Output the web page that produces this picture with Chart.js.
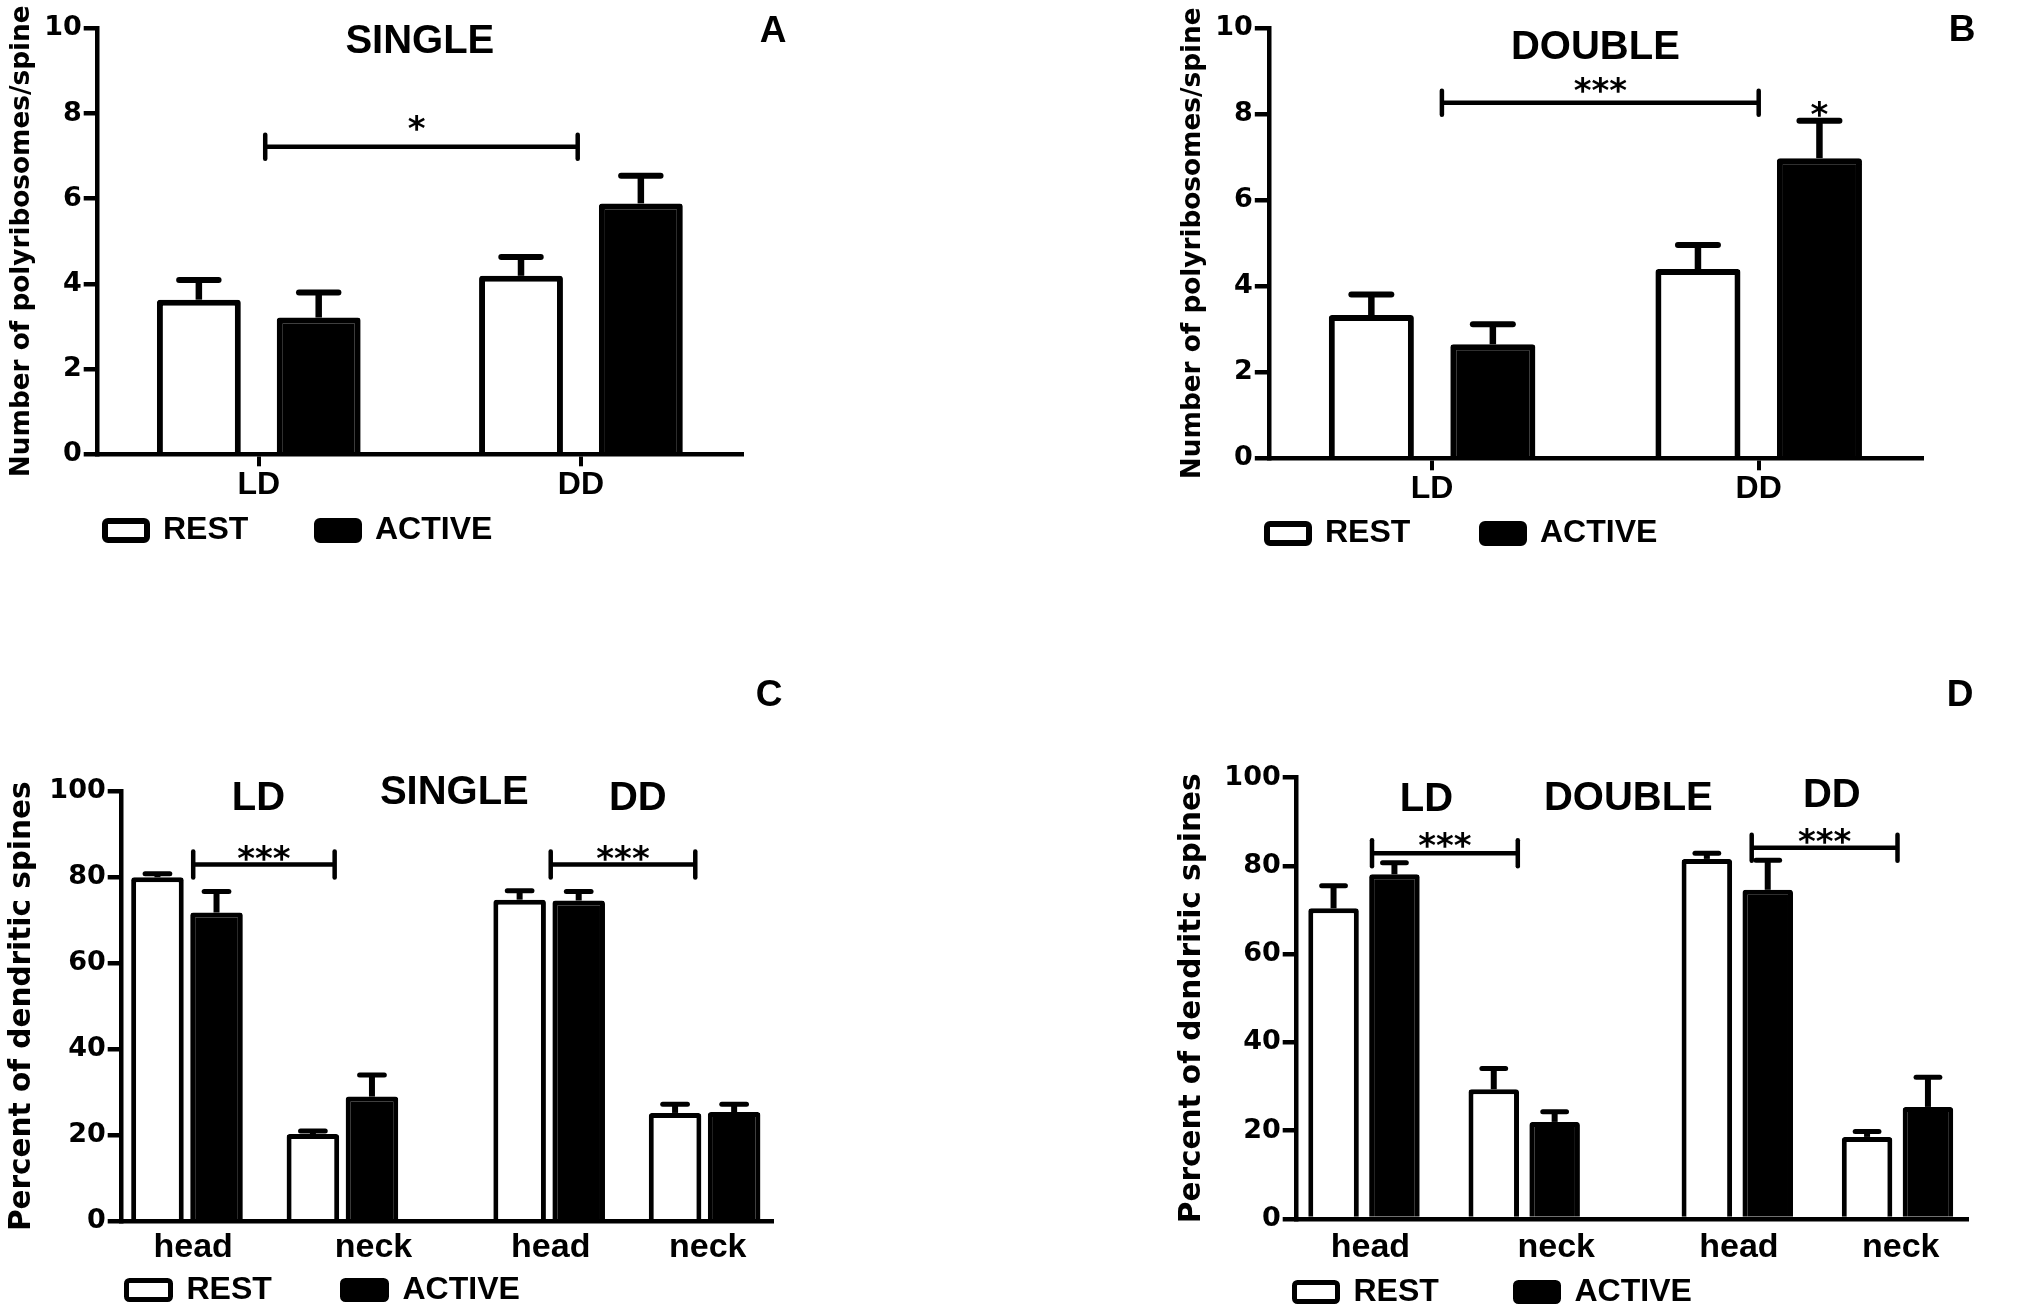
<!DOCTYPE html>
<html>
<head>
<meta charset="utf-8">
<title>Polyribosomes in dendritic spines</title>
<script src="https://cdn.jsdelivr.net/npm/chart.js@4.4.1/dist/chart.umd.min.js"></script>
<style>
  html, body { margin: 0; padding: 0; background: #fff; }
  body { width: 2034px; height: 1312px; position: relative; overflow: hidden; }
  canvas { position: absolute; }
</style>
</head>
<body>
<canvas id="panelA" width="1100" height="640" style="left:0px;top:0px"></canvas>
<canvas id="panelB" width="934" height="640" style="left:1100px;top:0px"></canvas>
<canvas id="panelC" width="1100" height="800" style="left:0px;top:640px"></canvas>
<canvas id="panelD" width="934" height="800" style="left:1100px;top:640px"></canvas>
<script>
// ---- values (mean and SEM) ----
const seriesNames = ['REST', 'ACTIVE'];
const lightCycles = ['LD', 'DD'];

// A: single spines, polyribosomes per spine
const singleRest = [3.63, 4.19];
const singleRestSem = [0.46, 0.44];
const singleActive = [3.21, 5.89];
const singleActiveSem = [0.59, 0.65];

// B: double spines
const doubleRest = [3.33, 4.40];
const doubleRestSem = [0.48, 0.56];
const doubleActive = [2.65, 6.98];
const doubleActiveSem = [0.47, 0.87];

// C, D: percent of spines, head / neck for LD then DD
const spineParts = ['head', 'neck', 'head', 'neck'];
const spinePartPos = [0, 1, 2.33, 3.33];       // the four bar pairs on the x scale
const spineLabelPos = [0.04, 1.2, 2.34, 3.35]; // where the head/neck words sit
const singlePctRest = [80.0, 20.3, 74.8, 25.2];
const singlePctRestSem = [0.8, 0.7, 2.1, 2.0];
const singlePctActive = [71.8, 29.0, 74.6, 25.4];
const singlePctActiveSem = [4.9, 5.0, 2.1, 1.8];
const doublePctRest = [70.4, 29.4, 81.6, 18.6];
const doublePctRestSem = [5.1, 4.7, 1.3, 1.2];
const doublePctActive = [78.1, 22.0, 74.6, 25.4];
const doublePctActiveSem = [2.6, 2.3, 6.7, 6.7];

const SANS = '"Liberation Sans", Arial, sans-serif';   // words
const WIDE = '"DejaVu Sans", sans-serif';               // y digits, axis titles, stars
const BLACK = '#000000';
const LEGEND_SIZE = 32;

Chart.defaults.font.family = SANS;
Chart.defaults.font.weight = 'bold';
Chart.defaults.color = BLACK;

function centeredText(ctx, text, x, y, size, family) {
  ctx.font = 'bold ' + size + 'px ' + (family || SANS);
  ctx.textAlign = 'center';
  ctx.textBaseline = 'alphabetic';
  const m = ctx.measureText(text);
  ctx.fillText(text, x, y + (m.actualBoundingBoxAscent - m.actualBoundingBoxDescent) / 2);
}

// error bars, significance brackets and the free text of a panel
function marks(cfg, origin) {
  return {
    id: 'marks',
    afterDatasetsDraw(chart) {
      const ctx = chart.ctx;
      const x = chart.scales.x, y = chart.scales.y;
      ctx.save();
      ctx.strokeStyle = BLACK;
      ctx.fillStyle = BLACK;

      chart.data.datasets.forEach((ds, i) => {
        chart.getDatasetMeta(i).data.forEach((bar, j) => {
          const d = ds.data[j];
          const v = typeof d === 'object' ? d.y : d;
          const yErr = y.getPixelForValue(v + ds.sem[j]);
          ctx.lineCap = 'butt';
          ctx.lineWidth = cfg.errWidth;
          ctx.beginPath();
          ctx.moveTo(bar.x, bar.y);
          ctx.lineTo(bar.x, yErr);
          ctx.stroke();
          const half = bar.width * cfg.capRatio / 2;
          ctx.lineCap = 'round';
          ctx.lineWidth = cfg.capWidth;
          ctx.beginPath();
          ctx.moveTo(bar.x - half, yErr);
          ctx.lineTo(bar.x + half, yErr);
          ctx.stroke();
        });
      });

      cfg.brackets.forEach(b => {
        const x1 = x.getPixelForValue(b.from);
        const x2 = x.getPixelForValue(b.to);
        const yy = y.getPixelForValue(b.y);
        ctx.lineWidth = cfg.lineWidth;
        ctx.lineCap = 'butt';
        ctx.beginPath();
        ctx.moveTo(x1, yy);
        ctx.lineTo(x2, yy);
        ctx.stroke();
        ctx.lineCap = 'round';
        [x1, x2].forEach(xx => {
          ctx.beginPath();
          ctx.moveTo(xx, yy - cfg.tick);
          ctx.lineTo(xx, yy + cfg.tick);
          ctx.stroke();
        });
        const tx = b.textX !== undefined ? x.getPixelForValue(b.textX) : (x1 + x2) / 2;
        centeredText(ctx, b.text, tx, y.getPixelForValue(b.textY), cfg.starSize, WIDE);
      });

      cfg.barStars.forEach(s => {
        const bar = chart.getDatasetMeta(s.dataset).data[s.index];
        centeredText(ctx, s.text, bar.x, y.getPixelForValue(s.y), cfg.starSize, WIDE);
      });

      cfg.labels.forEach(l => {
        centeredText(ctx, l.text, x.getPixelForValue(l.x), y.getPixelForValue(l.y), l.size);
      });

      const c = cfg.corner;
      centeredText(ctx, c.text, c.x - origin[0], c.y - origin[1], 37);
      ctx.restore();
    }
  };
}

// puts the legend row where the figure has it
function legendSpot(left, top) {
  return {
    id: 'legendSpot',
    afterLayout(chart) {
      const lg = chart.legend;
      lg.left = left;
      lg.top = top;
      lg.right = chart.width;
      lg.bottom = chart.height;
    }
  };
}

function buildPanel(p) {
  const canvas = document.getElementById(p.id);
  const W = canvas.width, H = canvas.height;
  const left = p.area.left - p.origin[0];
  const right = p.area.right - p.origin[0];
  const top = p.area.top - p.origin[1];
  const bottom = p.area.bottom - p.origin[1];

  const lw = p.borderWidth;
  const boxW = p.legendBox[0] - lw, boxH = p.legendBox[1] - lw;
  const meas = document.createElement('canvas').getContext('2d');
  meas.font = 'bold ' + LEGEND_SIZE + 'px ' + SANS;
  const gap = p.legendStep - (boxW + LEGEND_SIZE / 2 + meas.measureText(seriesNames[0]).width);
  const cursorX = p.legendAt[0] - p.origin[0] + lw / 2;
  const cursorY = p.legendAt[1] - p.origin[1] + lw / 2 - Math.max((LEGEND_SIZE - boxH) / 2, 0);

  const titlePad = p.yTitleX - p.origin[0] - p.yTitleSize * 0.6;

  const toData = vals => p.spine ? vals.map((v, i) => ({ x: spinePartPos[i], y: v })) : vals;

  const tickFont = { size: p.xTickSize, weight: 'bold', family: SANS };
  const xScale = p.spine ? {
    type: 'linear', min: -0.42, max: 3.77, bounds: 'data', offset: false,
    grid: { display: false, drawTicks: false },
    border: { display: true, width: 4.5, color: BLACK, z: 1 },
    afterBuildTicks: s => { s.ticks = spineLabelPos.map(v => ({ value: v })); },
    ticks: { color: BLACK, font: tickFont, padding: p.xTickPad, maxRotation: 0, autoSkip: false,
             callback: (v, i) => spineParts[i] },
    afterFit: s => { s.height = H - 1 - bottom; }
  } : {
    type: 'category', offset: true,
    grid: { drawOnChartArea: false, drawTicks: true, tickLength: 12, lineWidth: 4, color: BLACK, offset: false },
    border: { display: true, width: 4.5, color: BLACK, z: 1 },
    ticks: { color: BLACK, font: tickFont, padding: p.xTickPad, maxRotation: 0, autoSkip: false },
    afterFit: s => { s.height = H - 1 - bottom; }
  };

  const barStyle = {
    borderColor: BLACK, borderWidth: lw, borderSkipped: 'start', borderRadius: 3,
    categoryPercentage: p.catPct, barPercentage: p.barPct
  };

  return new Chart(canvas, {
    type: 'bar',
    data: {
      labels: p.spine ? undefined : lightCycles,
      datasets: [
        Object.assign({ label: seriesNames[0], data: toData(p.rest), sem: p.restSem, backgroundColor: '#ffffff' }, barStyle),
        Object.assign({ label: seriesNames[1], data: toData(p.active), sem: p.activeSem, backgroundColor: BLACK }, barStyle)
      ]
    },
    options: {
      responsive: false,
      animation: false,
      events: [],
      layout: { padding: { left: 0, top: top, right: W - right, bottom: 0 } },
      plugins: {
        legend: {
          position: 'bottom', align: 'start', maxHeight: 1,
          labels: {
            boxWidth: boxW, boxHeight: boxH, padding: gap, color: BLACK,
            font: { size: LEGEND_SIZE, weight: 'bold', family: SANS },
            useBorderRadius: true, borderRadius: 3
          }
        },
        tooltip: { enabled: false }
      },
      scales: {
        x: xScale,
        y: {
          min: 0, max: p.yMax,
          ticks: { stepSize: p.yStep, color: BLACK, font: { size: 27, weight: 'bold', family: WIDE }, padding: 2 },
          grid: { drawOnChartArea: false, drawTicks: true, tickLength: 14, lineWidth: 4.5, color: BLACK },
          border: { display: true, width: 4.5, color: BLACK, z: 1 },
          title: { display: true, text: p.yTitle, color: BLACK,
                   font: { size: p.yTitleSize, weight: 'bold', family: WIDE },
                   padding: { top: titlePad, bottom: 0 } },
          afterFit: s => { s.width = left; }
        }
      }
    },
    plugins: [marks(p.marks, p.origin), legendSpot(cursorX - gap, cursorY - gap)]
  });
}

const polyTitle = 'Number of polyribosomes/spine';
const pctTitle = 'Percent of dendritic spines';

buildPanel({
  id: 'panelA', origin: [0, 0],
  area: { left: 97.7, right: 742, top: 28.3, bottom: 454.3 },
  rest: singleRest, restSem: singleRestSem, active: singleActive, activeSem: singleActiveSem,
  yMax: 10, yStep: 2, yTitle: polyTitle, yTitleSize: 26.3, yTitleX: 22.5,
  borderWidth: 6, catPct: 0.744, barPct: 0.70, xTickSize: 32, xTickPad: 0,
  legendAt: [102, 518], legendBox: [48, 25], legendStep: 212,
  marks: {
    errWidth: 6.5, capWidth: 6, capRatio: 0.47, lineWidth: 4.5, tick: 12, starSize: 34,
    brackets: [{ from: 0.02, to: 0.99, y: 7.22, text: '*', textX: 0.49, textY: 7.77 }],
    barStars: [],
    labels: [{ text: 'SINGLE', x: 0.5, y: 9.76, size: 40 }],
    corner: { text: 'A', x: 773, y: 29 }
  }
});

buildPanel({
  id: 'panelB', origin: [1100, 0],
  area: { left: 1268.8, right: 1922, top: 28.3, bottom: 458.3 },
  rest: doubleRest, restSem: doubleRestSem, active: doubleActive, activeSem: doubleActiveSem,
  yMax: 10, yStep: 2, yTitle: polyTitle, yTitleSize: 26.3, yTitleX: 1193,
  borderWidth: 6, catPct: 0.744, barPct: 0.70, xTickSize: 32, xTickPad: 0,
  legendAt: [1264, 521], legendBox: [48, 25], legendStep: 215,
  marks: {
    errWidth: 6.5, capWidth: 6, capRatio: 0.47, lineWidth: 4.5, tick: 12, starSize: 34,
    brackets: [{ from: 0.03, to: 1.0, y: 8.27, text: '***', textY: 8.69 }],
    barStars: [{ dataset: 1, index: 1, y: 8.12, text: '*' }],
    labels: [{ text: 'DOUBLE', x: 0.5, y: 9.62, size: 40 }],
    corner: { text: 'B', x: 1962, y: 28 }
  }
});

buildPanel({
  id: 'panelC', origin: [0, 640], spine: true,
  area: { left: 121.7, right: 773, top: 791.3, bottom: 1221.3 },
  rest: singlePctRest, restSem: singlePctRestSem, active: singlePctActive, activeSem: singlePctActiveSem,
  yMax: 100, yStep: 20, yTitle: pctTitle, yTitleSize: 29.5, yTitleX: 22,
  borderWidth: 5, catPct: 0.76, barPct: 0.89, xTickSize: 34, xTickPad: 6,
  legendAt: [124, 1278], legendBox: [49, 24], legendStep: 216,
  marks: {
    errWidth: 6, capWidth: 5, capRatio: 0.47, lineWidth: 4.5, tick: 13, starSize: 34,
    brackets: [
      { from: 0.04, to: 0.95, y: 83.0, text: '***', textY: 85.65 },
      { from: 2.34, to: 3.27, y: 83.0, text: '***', textY: 85.65 }
    ],
    barStars: [],
    labels: [
      { text: 'LD', x: 0.46, y: 99, size: 40 },
      { text: 'SINGLE', x: 1.72, y: 100.4, size: 40 },
      { text: 'DD', x: 2.90, y: 99, size: 40 }
    ],
    corner: { text: 'C', x: 769, y: 693 }
  }
});

buildPanel({
  id: 'panelD', origin: [1100, 640], spine: true,
  area: { left: 1296.7, right: 1968, top: 777.7, bottom: 1219 },
  rest: doublePctRest, restSem: doublePctRestSem, active: doublePctActive, activeSem: doublePctActiveSem,
  yMax: 100, yStep: 20, yTitle: pctTitle, yTitleSize: 29.5, yTitleX: 1192,
  borderWidth: 5, catPct: 0.76, barPct: 0.83, xTickSize: 34, xTickPad: 8,
  legendAt: [1292, 1280], legendBox: [48, 24], legendStep: 221,
  marks: {
    errWidth: 6, capWidth: 5, capRatio: 0.47, lineWidth: 4.5, tick: 13, starSize: 34,
    brackets: [
      { from: 0.05, to: 0.96, y: 82.9, text: '***', textY: 85.9 },
      { from: 2.42, to: 3.33, y: 84.1, text: '***', textY: 86.7 }
    ],
    barStars: [],
    labels: [
      { text: 'LD', x: 0.39, y: 95.7, size: 40 },
      { text: 'DOUBLE', x: 1.65, y: 95.9, size: 40 },
      { text: 'DD', x: 2.92, y: 96.6, size: 40 }
    ],
    corner: { text: 'D', x: 1960, y: 693 }
  }
});
</script>
</body>
</html>
